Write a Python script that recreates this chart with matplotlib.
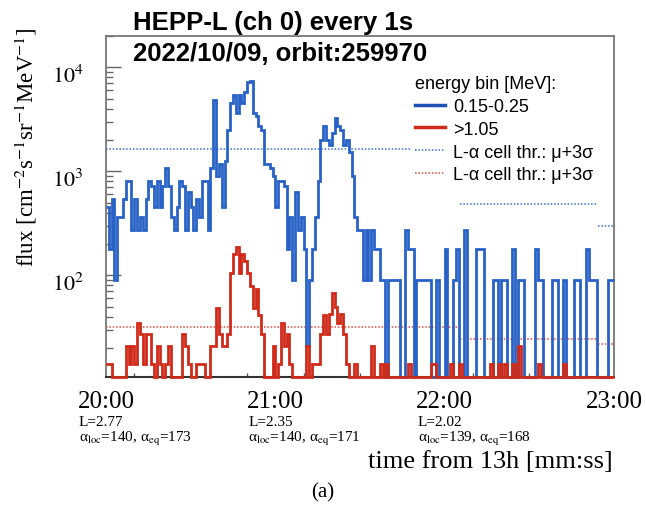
import numpy as np
import matplotlib.pyplot as plt
import matplotlib.transforms as mtransforms
from matplotlib.lines import Line2D
from matplotlib.ticker import FixedLocator, NullFormatter, LogLocator

plt.rcParams['mathtext.fontset'] = 'stix'
plt.rcParams['font.family'] = ['Liberation Serif', 'DejaVu Serif']

# time bins: seconds from 13h, one bin per second (20:00 -> 23:00)
t_edges = np.arange(1200, 1381)

# flux 0.15-0.25 MeV [cm-2 s-1 sr-1 MeV-1]
blue_flux = [
    450, 180, 540, 90, 360, 360, 540, 810, 810, 270,
    540, 270, 360, 270, 540, 810, 720, 450, 810, 450,
    720, 1080, 720, 360, 270, 450, 810, 720, 270, 630,
    450, 270, 540, 360, 810, 810, 270, 1080, 4860, 900,
    1170, 450, 1260, 2520, 4500, 5400, 3600, 5400, 4500, 5850,
    7200, 7380, 3600, 3420, 2700, 2520, 1170, 1170, 1080, 900,
    450, 810, 810, 720, 180, 360, 90, 630, 270, 360,
    180, 21, 90, 180, 360, 810, 1980, 2700, 1980, 1800,
    2340, 3240, 2700, 2520, 1800, 1980, 1530, 900, 360, 270,
    270, 90, 270, 90, 270, 180, 180, 90, 90, 0,
    90, 90, 90, 90, 0, 0, 270, 180, 180, 0,
    90, 90, 90, 90, 90, 0, 0, 90, 0, 0,
    180, 0, 0, 90, 180, 0, 0, 270, 0, 0,
    0, 180, 180, 180, 0, 0, 0, 90, 90, 0,
    90, 90, 0, 0, 180, 0, 90, 90, 0, 0,
    0, 0, 180, 90, 90, 0, 0, 0, 90, 90,
    0, 0, 90, 0, 0, 0, 90, 90, 0, 0,
    180, 90, 90, 90, 0, 0, 0, 0, 90, 90,
]

# flux >1.05 MeV
red_flux = [
    14, 14, 0, 0, 0, 0, 0, 21, 14, 21,
    14, 35, 27, 14, 27, 27, 14, 0, 21, 14,
    0, 14, 21, 0, 0, 0, 0, 27, 21, 14,
    0, 0, 14, 14, 14, 0, 0, 21, 21, 48,
    27, 21, 21, 27, 106, 160, 185, 106, 160, 137,
    106, 79, 48, 73, 41, 27, 0, 0, 0, 21,
    0, 14, 35, 21, 27, 14, 0, 0, 0, 0,
    0, 21, 0, 14, 14, 14, 27, 41, 27, 42,
    68, 50, 35, 42, 27, 14, 0, 0, 14, 0,
    0, 0, 0, 0, 21, 0, 0, 14, 0, 14,
    0, 0, 0, 0, 0, 0, 0, 14, 0, 0,
    0, 0, 0, 0, 0, 14, 14, 0, 0, 0,
    0, 0, 14, 0, 0, 14, 0, 0, 0, 0,
    0, 0, 0, 0, 0, 0, 14, 0, 0, 14,
    0, 14, 0, 0, 14, 0, 21, 0, 0, 0,
    0, 0, 0, 14, 0, 0, 0, 0, 0, 0,
    0, 0, 14, 0, 0, 0, 0, 0, 0, 0,
    0, 0, 0, 0, 0, 0, 0, 0, 0, 0,
]

# L-alpha cell thresholds (mu + 3 sigma)
thr_edges = [1200, 1325.5, 1374.5, 1380]
blue_thr = [1630, 480, 297]
red_thr = [32, 24.6, 21.7]

tick_times = [1200, 1260, 1320, 1380]
tick_labels = ['20:00', '21:00', '22:00', '23:00']
L_vals = ['2.77', '2.35', '2.02']
a_loc = ['140', '140', '139']
a_eq = ['173', '171', '168']

c_blue = '#2862c6'
c_red = '#cf2a1a'
y_min, y_max = 10.5, 2.0e4

fig = plt.figure(figsize=(6.46, 5.06), dpi=100)
ax = fig.add_axes([106/646, 1-378/506, 508/646, 341/506])
ax.set_yscale('log')
ax.set_xlim(1200, 1380)
ax.set_ylim(y_min, y_max)

bv = np.array(blue_flux, dtype=float)
rv = np.array(red_flux, dtype=float)
ax.stairs(np.where(bv > 0, bv, y_min), t_edges, baseline=None,
          color=c_blue, lw=2.0, clip_on=False, zorder=3)
ax.stairs(np.where(rv > 0, rv, y_min), t_edges, baseline=None,
          color=c_red, lw=2.0, clip_on=False, zorder=4)

ax.hlines(blue_thr, thr_edges[:-1], thr_edges[1:], colors='#3a6fd2',
          linestyles=(0, (1, 1.2)), lw=1.1, zorder=2)
ax.hlines(red_thr, thr_edges[:-1], thr_edges[1:], colors='#e04a3a',
          linestyles=(0, (1, 1.2)), lw=1.1, zorder=2)

# axes styling
for s in ['top', 'right', 'left']:
    ax.spines[s].set_color('#777777')
    ax.spines[s].set_linewidth(1.3)
ax.spines['bottom'].set_color('#333333')
ax.spines['bottom'].set_linewidth(1.5)

ax.yaxis.set_major_locator(FixedLocator([1e2, 1e3, 1e4]))
ax.yaxis.set_minor_locator(LogLocator(base=10, subs=np.arange(2, 10)))
ax.yaxis.set_minor_formatter(NullFormatter())
ax.tick_params(axis='y', which='major', direction='in', length=11, width=1,
               color='#666666', labelsize=16, pad=16)
ax.tick_params(axis='y', which='minor', direction='in', length=5, width=1,
               color='#666666')
ax.set_yticklabels(['$10^{2}$', '$10^{3}$', '$10^{4}$'])
shift = mtransforms.ScaledTranslation(0, -6/100, fig.dpi_scale_trans)
for lab in ax.get_yticklabels():
    lab.set_transform(lab.get_transform() + shift)

ax.set_xticks(tick_times)
ax.set_xticklabels(tick_labels)
ax.xaxis.set_minor_locator(FixedLocator(np.arange(1210, 1380, 20)))
ax.tick_params(axis='x', which='major', length=0, labelsize=18, pad=9)
ax.tick_params(axis='x', which='minor', direction='in', length=3, width=1,
               color='#555555')

ax.set_ylabel('flux [cm$^{-2}$s$^{-1}$sr$^{-1}$MeV$^{-1}$]', fontsize=16.5,
              va='center')
ax.yaxis.set_label_coords(-0.157, 0.677)
ax.set_xlabel('time from 13h [mm:ss]', fontsize=19, ha='right', va='center')
ax.xaxis.set_label_coords(0.997, -0.246)

trans = ax.get_xaxis_transform()
for i in range(len(L_vals)):
    x0 = tick_times[i] - 9.6
    ax.text(x0, -0.13, 'L=' + L_vals[i], transform=trans, fontsize=11,
            ha='left', va='center')
    ax.text(x0, -0.178,
            '\u03b1$_{\\rm loc}$=' + a_loc[i] + ', \u03b1$_{\\rm eq}$=' + a_eq[i],
            transform=trans, fontsize=11, ha='left', va='center')

# titles
fig.text(133/646, 1-23/506, 'HEPP-L (ch 0) every 1s', fontsize=18.5,
         fontweight='bold', family='Liberation Sans', ha='left', va='center')
fig.text(133/646, 1-54/506, '2022/10/09, orbit:259970', fontsize=18.5,
         fontweight='bold', family='Liberation Sans', ha='left', va='center')
fig.text(0.5, 1-493/506, '(a)', fontsize=15, ha='center', va='center')

handles = [Line2D([], [], color='#1f50b4', lw=2.5),
           Line2D([], [], color=c_red, lw=2.5),
           Line2D([], [], color='#3a6fd2', lw=1.1, ls=(0, (1, 1.2))),
           Line2D([], [], color='#e04a3a', lw=1.1, ls=(0, (1, 1.2)))]
labels = ['0.15-0.25', '>1.05', 'L-\u03b1 cell thr.: \u03bc+3\u03c3',
          'L-\u03b1 cell thr.: \u03bc+3\u03c3']
leg = ax.legend(handles, labels, title='energy bin [MeV]:', loc='upper left',
                bbox_to_anchor=(0.598, 0.901), frameon=True, facecolor='white',
                edgecolor='none', framealpha=1, fancybox=False,
                prop={'family': 'Liberation Sans', 'size': 13},
                title_fontproperties={'family': 'Liberation Sans', 'size': 13},
                handlelength=1.65, handletextpad=0.45, labelspacing=0.32,
                borderpad=0.3, borderaxespad=0, alignment='left')
leg.set_zorder(6)

fig.savefig('out.png', dpi=100)
